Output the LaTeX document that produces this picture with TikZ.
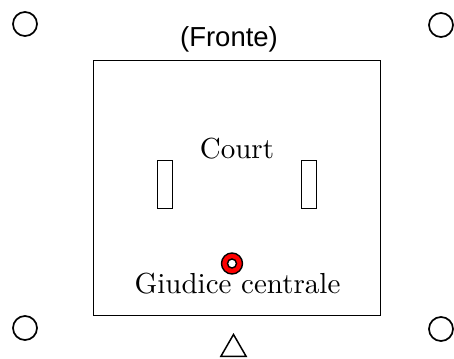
\documentclass[tikz,border=0pt]{standalone}
\usepackage{fontspec}
\usepackage{graphicx}
\newfontfamily\labelsans{Liberation Sans}
\usetikzlibrary{shapes.geometric}
\newcommand{\bigserif}[1]{\scalebox{2.9}{\fontsize{10}{12}\selectfont #1}}
\begin{document}
\begin{tikzpicture}[x=1pt,y=-1pt,
  cornerpost/.style={circle,draw,line width=1.7pt,minimum size=24pt,inner sep=0pt},
  court/.style={rectangle,draw,line width=1.8pt,minimum width=287pt,minimum height=255pt,inner sep=0pt},
  bench/.style={rectangle,draw,line width=1.5pt,minimum width=15pt,minimum height=48pt,inner sep=0pt},
  serifbig/.style={inner sep=0pt,anchor=base},
  sansbig/.style={font=\labelsans\fontsize{27.5}{33}\selectfont,inner sep=0pt,anchor=base},
  judgering/.style={circle,draw,line width=1.4pt,fill=red,minimum size=21pt,inner sep=0pt},
  judgecore/.style={circle,draw,line width=1.4pt,fill=white,minimum size=9pt,inner sep=0pt},
  umpire/.style={regular polygon,regular polygon sides=3,draw,line width=1.5pt,minimum size=29pt,inner sep=0pt}]
  \useasboundingbox (0,0) rectangle (454,358);

  % corner posts
  \node[cornerpost] (tl) at (25,24) {};
  \node[cornerpost] (tr) at (441,25) {};
  \node[cornerpost] (bl) at (25,328) {};
  \node[cornerpost] (br) at (441,329) {};

  % playing area
  \node[court] (area) at (237,188) {};
  \node[sansbig] (front) at (229,47) {(Fronte)};
  \node[serifbig] (courtlbl) at (237,158) {\bigserif{Court}};

  % benches
  \node[bench] (lbench) at (165,184.5) {};
  \node[bench] (rbench) at (309,184.5) {};

  % central judge
  \node[serifbig] (judgelbl) at (237.5,293) {\bigserif{Giudice centrale}};
  \node[judgering] (judge) at (232,263.5) {};
  \node[judgecore] at (judge) {};

  % position marker below the court
  \node[umpire] (tri) at (233.5,349) {};
\end{tikzpicture}
\end{document}
